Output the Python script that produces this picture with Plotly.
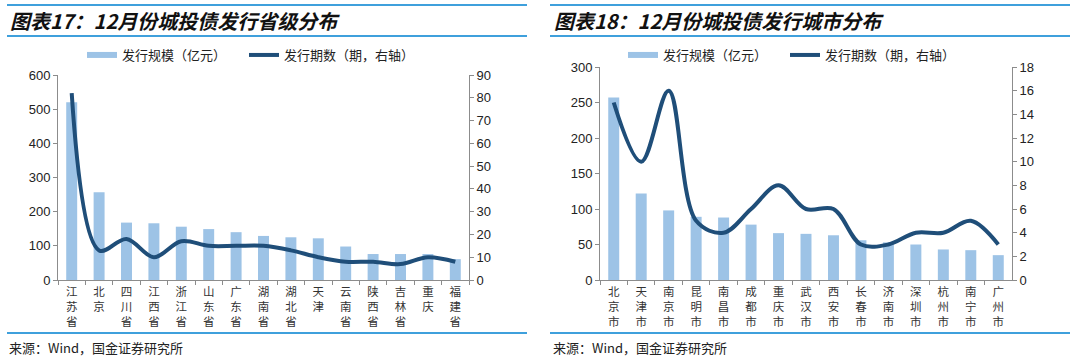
import plotly.graph_objects as go

# ---------------- data ----------------
prov = ["江苏省", "北京", "四川省", "江西省", "浙江省", "山东省", "广东省", "湖南省",
        "湖北省", "天津", "云南省", "陕西省", "吉林省", "重庆", "福建省"]
prov_amt = [520, 257, 168, 166, 156, 149, 140, 129, 125, 122, 98, 76, 76, 76, 61]
prov_cnt = [82, 13, 18, 10, 17, 15, 15, 15, 13, 10, 8, 8, 7, 10, 8]

city = ["北京市", "天津市", "南京市", "昆明市", "南昌市", "成都市", "重庆市", "武汉市",
        "西安市", "长春市", "济南市", "深圳市", "杭州市", "南宁市", "广州市"]
city_amt = [257, 122, 98, 89, 88, 78, 66, 65, 63, 56, 53, 50, 43, 42, 35]
city_cnt = [15, 10, 16, 5, 4, 6, 8, 6, 6, 3, 3, 4, 4, 5, 3]

titles = ["图表17：12月份城投债发行省级分布", "图表18：12月份城投债发行城市分布"]
source = "来源：Wind，国金证券研究所"
name_amt = "发行规模（亿元）"
name_cnt = "发行期数（期，右轴）"

# ---------------- style ----------------
W, H = 1080, 358
BAR = "#9DC3E6"
LINE = "#1F4E79"
RULE = "#3FA0DC"
AX = "#8C8C8C"
CJK = "Noto Sans CJK SC"
NUM = "Liberation Sans, Arial"

def px_x(p):
    return p / W

def px_y(p):
    return 1 - p / H

fig = go.Figure()

panels = [
    dict(cats=prov, amt=prov_amt, cnt=prov_cnt, x="x", y="y", y2="y2",
         xd=[px_x(58), px_x(469)], yd=[px_y(280), px_y(75)],
         r1=[0, 600], d1=100, r2=[0, 90], d2=10, legend="legend"),
    dict(cats=city, amt=city_amt, cnt=city_cnt, x="x2", y="y3", y2="y4",
         xd=[px_x(600), px_x(1012)], yd=[px_y(280), px_y(67)],
         r1=[0, 300], d1=50, r2=[0, 18], d2=2, legend="legend2"),
]

for p in panels:
    fig.add_trace(go.Bar(x=p["cats"], y=p["amt"], marker=dict(color=BAR, line_width=0),
                         xaxis=p["x"], yaxis=p["y"], showlegend=False, name=name_amt))
    # legend proxy for bar (wide swatch as in the reference)
    fig.add_trace(go.Scatter(x=[None], y=[None], mode="lines", name=name_amt,
                             line=dict(color=BAR, width=6),
                             xaxis=p["x"], yaxis=p["y"], legend=p["legend"]))
    fig.add_trace(go.Scatter(x=p["cats"], y=p["cnt"], mode="lines", name=name_cnt,
                             line=dict(color=LINE, width=4, shape="spline", smoothing=1.0),
                             xaxis=p["x"], yaxis=p["y2"], legend=p["legend"]))

def xaxis_cfg(p):
    return dict(domain=p["xd"], anchor=p["y"], type="category",
                tickvals=p["cats"], ticktext=["<br>".join(list(c)) for c in p["cats"]],
                showline=True, linecolor=AX, linewidth=1, ticks="outside",
                tickson="boundaries", ticklen=4, tickcolor=AX, showgrid=False,
                ticklabelstandoff=1,
                tickfont=dict(family=CJK, size=11.5, color="#333"), tickangle=0)

def yaxis_cfg(p, rng, dt, side, overlay=None):
    d = dict(domain=p["yd"], anchor=p["x"], range=rng, dtick=dt, side=side,
             showline=True, linecolor=AX, linewidth=1, ticks="outside",
             ticklen=4, tickcolor=AX, showgrid=False, zeroline=False,
             tickfont=dict(family=NUM, size=13, color="#222"))
    if overlay:
        d["overlaying"] = overlay
    return d

legend_common = dict(orientation="h", xanchor="left", yanchor="middle",
                     font=dict(family=CJK, size=13, color="#222"), entrywidth=117,
                     entrywidthmode="pixels", bgcolor="rgba(0,0,0,0)", traceorder="normal")

p1, p2 = panels
fig.update_layout(
    width=W, height=H, margin=dict(l=0, r=0, t=0, b=0, autoexpand=False),
    paper_bgcolor="white", plot_bgcolor="white",
    bargap=0.6,
    xaxis=xaxis_cfg(p1),
    yaxis=yaxis_cfg(p1, p1["r1"], p1["d1"], "left"),
    yaxis2=yaxis_cfg(p1, p1["r2"], p1["d2"], "right", "y"),
    xaxis2=xaxis_cfg(p2),
    yaxis3=yaxis_cfg(p2, p2["r1"], p2["d1"], "left"),
    yaxis4=yaxis_cfg(p2, p2["r2"], p2["d2"], "right", "y3"),
    legend=dict(x=px_x(82), y=px_y(55), **legend_common),
    legend2=dict(x=px_x(82 + 541), y=px_y(55), **legend_common),
    showlegend=True,
)

# title rules and footers
for x0, x1, tx, title in [(7, 527, 8, titles[0]), (550, 1070, 552, titles[1])]:
    for yy in (5, 36, 333):
        fig.add_shape(type="line", xref="paper", yref="paper",
                      x0=px_x(x0), x1=px_x(x1), y0=px_y(yy), y1=px_y(yy),
                      line=dict(color=RULE, width=2))
    fig.add_annotation(text=f"<b><i>{title}</i></b>", xref="paper", yref="paper",
                       x=px_x(tx), y=px_y(20), xanchor="left", yanchor="middle",
                       showarrow=False, font=dict(family=CJK, size=20, color="#111"))
    fig.add_annotation(text=source, xref="paper", yref="paper",
                       x=px_x(tx - 1), y=px_y(347), xanchor="left", yanchor="middle",
                       showarrow=False, font=dict(family=CJK, size=13, color="#222"))

fig.write_html("out.html", config={"displayModeBar": False},
               post_script="document.body.style.margin='0';document.body.style.overflow='hidden';")
